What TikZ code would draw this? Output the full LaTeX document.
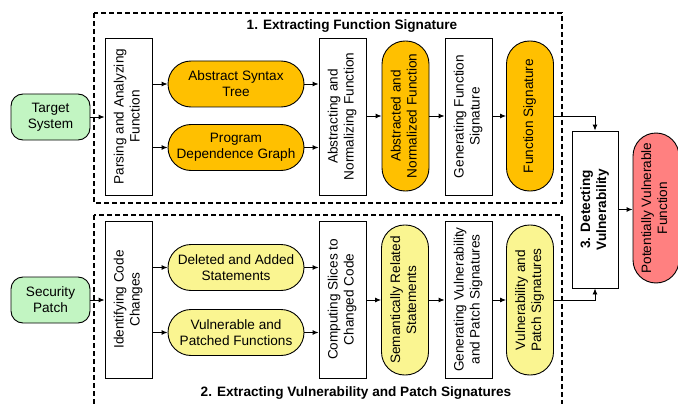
\documentclass[tikz,border=0pt]{standalone}
\usepackage{fontspec}
\setmainfont{Liberation Sans}
\usetikzlibrary{arrows.meta}
\definecolor{cgreen}{RGB}{194,245,194}
\definecolor{corange}{RGB}{255,192,0}
\definecolor{cyellow}{RGB}{250,245,145}
\definecolor{cred}{RGB}{255,128,128}
\newcommand{\vtext}[1]{\rotatebox{90}{\begin{tabular}{@{}c@{}}#1\end{tabular}}}
\begin{document}
\begin{tikzpicture}[x=1pt,y=-1pt,
  font=\fontsize{13.6}{16}\selectfont,
  stepbox/.style={draw, line width=0.9pt, inner sep=0pt, minimum width=47pt, minimum height=157pt},
  hcapsule/.style={draw, line width=0.9pt, rounded corners=23pt, minimum width=136pt, minimum height=46pt, inner sep=0pt, align=center},
  vcapsule/.style={draw, line width=0.9pt, rounded corners=23pt, minimum width=47pt, minimum height=150pt, inner sep=0pt},
  inbox/.style={draw, line width=0.9pt, rounded corners=12pt, fill=cgreen, minimum width=79pt, minimum height=46pt, inner sep=0pt, align=center},
  arr/.style={-{Latex[length=6pt,width=5pt]}, line width=0.9pt},
  group/.style={draw, dash pattern=on 5pt off 3pt, line width=1.1pt},
  title/.style={font=\fontsize{13.6}{16}\selectfont\bfseries}
]
\useasboundingbox (0,0) rectangle (678,404);

% groups
\draw[group] (94,13) rectangle (562,203);
\draw[group] (94,215) rectangle (562,420);
\node[title] (t1) at (352,26) {1. Extracting Function Signature};
\node[title] (t2) at (356,393) {2. Extracting Vulnerability and Patch Signatures};

% inputs
\node[inbox] (target) at (50.5,117) {Target\\System};
\node[inbox] (patch) at (50.5,300) {Security\\Patch};

% column 1
\node[stepbox] (parse) at (128.5,116.5) {\vtext{Parsing and Analyzing\\Function}};
\node[stepbox] (ident) at (128.5,299.5) {\vtext{Identifying Code\\Changes}};

% column 2
\node[hcapsule, fill=corange] (ast) at (236,84) {Abstract Syntax\\Tree};
\node[hcapsule, fill=corange] (pdg) at (236,147.5) {Program\\Dependence Graph};
\node[hcapsule, fill=cyellow] (das) at (236,267.5) {Deleted and Added\\Statements};
\node[hcapsule, fill=cyellow] (vpf) at (236,332.5) {Vulnerable and\\Patched Functions};

% column 3
\node[stepbox] (absnorm) at (342.5,116.5) {\vtext{Abstracting and\\Normalizing Function}};
\node[stepbox] (slices) at (342.5,299.5) {\vtext{Computing Slices to\\Changed Code}};

% column 4
\node[vcapsule, fill=corange] (anf) at (405.5,116) {\vtext{Abstracted and\\Normalized Function}};
\node[vcapsule, fill=cyellow] (srs) at (405,300) {\vtext{Semantically Related\\Statements}};

% column 5
\node[stepbox] (genfs) at (468.5,116.5) {\vtext{Generating Function\\Signature}};
\node[stepbox] (genvps) at (468.5,299.5) {\vtext{Generating Vulnerability\\and Patch Signatures}};

% column 6
\node[vcapsule, fill=corange] (fsig) at (530,116) {\vtext{Function Signature}};
\node[vcapsule, fill=cyellow] (vps) at (530,300) {\vtext{Vulnerability and\\Patch Signatures}};

% detection and output
\node[stepbox, minimum width=46pt, font=\fontsize{13.6}{16}\selectfont\bfseries] (detect) at (595,209.5) {\vtext{3. Detecting\\Vulnerability}};
\node[vcapsule, minimum width=46pt, fill=cred] (pvf) at (656,208) {\vtext{Potentially Vulnerable\\Function}};

% connectors
\draw[arr] (target.east) -- (parse.west |- target.east);
\draw[arr] (patch.east) -- (ident.west |- patch.east);
\draw[arr] (parse.east |- ast.west) -- (ast.west);
\draw[arr] (parse.east |- pdg.west) -- (pdg.west);
\draw[arr] (ident.east |- das.west) -- (das.west);
\draw[arr] (ident.east |- vpf.west) -- (vpf.west);
\draw[arr] (ast.east) -- (absnorm.west |- ast.east);
\draw[arr] (pdg.east) -- (absnorm.west |- pdg.east);
\draw[arr] (das.east) -- (slices.west |- das.east);
\draw[arr] (vpf.east) -- (slices.west |- vpf.east);
\draw[arr] (absnorm.east |- anf.west) -- (anf.west);
\draw[arr] (anf.east) -- (genfs.west |- anf.east);
\draw[arr] (genfs.east |- fsig.west) -- (fsig.west);
\draw[arr] (slices.east |- srs.west) -- (srs.west);
\draw[arr] (srs.east) -- (genvps.west |- srs.east);
\draw[arr] (genvps.east |- vps.west) -- (vps.west);
\draw[arr] (fsig.east) -| (detect.north);
\draw[arr] (vps.east) -| (detect.south);
\draw[arr] (detect.east) -- (pvf.west |- detect.east);
\end{tikzpicture}
\end{document}
